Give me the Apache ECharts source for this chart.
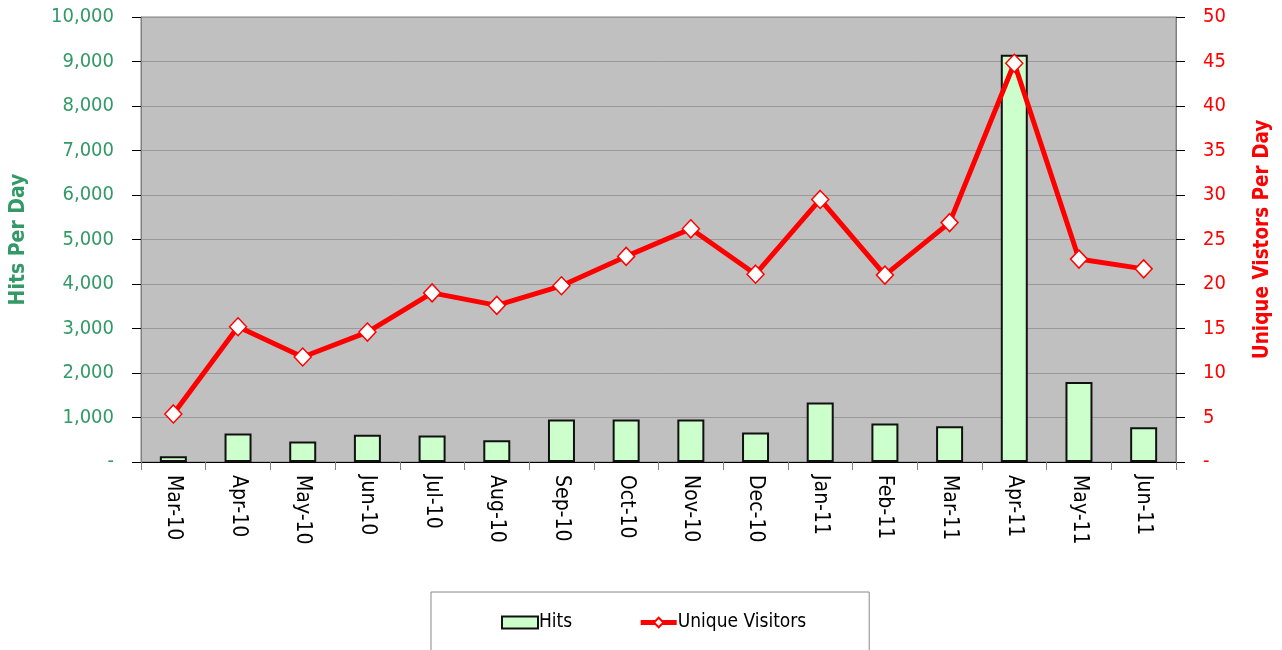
<!DOCTYPE html>
<html>
<head>
<meta charset="utf-8">
<script src="https://cdn.jsdelivr.net/npm/echarts@6/dist/echarts.min.js"></script>
<style>
html,body{margin:0;padding:0;background:#fff;}
#c{width:1282px;height:650px;}
</style>
</head>
<body>
<div id="c"></div>
<script>
const categories = ['Mar-10','Apr-10','May-10','Jun-10','Jul-10','Aug-10','Sep-10','Oct-10','Nov-10','Dec-10','Jan-11','Feb-11','Mar-11','Apr-11','May-11','Jun-11'];
const hits = [130, 640, 460, 615, 595, 490, 955, 955, 955, 665, 1335, 865, 805, 9150, 1795, 780];
const uniqueVisitors = [5.4, 15.2, 11.8, 14.6, 19.0, 17.6, 19.8, 23.1, 26.2, 21.1, 29.5, 21.0, 26.9, 44.8, 22.8, 21.7];
const leftTicks = {min: 0, max: 10000, interval: 1000};
const rightTicks = {min: 0, max: 50, interval: 5};

const FONT = "'DejaVu Sans Condensed', 'DejaVu Sans', sans-serif";
const GREEN = '#339966';
const RED = '#ff0000';

function fmtThousands(v){
  if (v === 0) return '-';
  return String(v).replace(/\B(?=(\d{3})+(?!\d))/g, ',');
}

const chart = echarts.init(document.getElementById('c'), null, {renderer: 'canvas'});
chart.setOption({
  animation: false,
  backgroundColor: '#ffffff',
  grid: {
    left: 140, right: 106, top: 17, bottom: 188,
    show: true, backgroundColor: '#c0c0c0', borderColor: '#808080', borderWidth: 1
  },
  legend: {
    left: 431, top: 592,
    padding: [21, 63, 40, 70],
    borderColor: '#888888', borderWidth: 1,
    backgroundColor: '#ffffff',
    itemGap: 66,
    itemWidth: 36, itemHeight: 12,
    textStyle: {fontFamily: FONT, fontSize: 19, color: '#000000', padding: [0,0,0,-4]},
    data: [
      {name: 'Hits', icon: 'rect', itemStyle: {borderWidth: 2, borderColor: '#111111'}},
      {name: 'Unique Visitors', lineStyle: {width: 5}}
    ]
  },
  xAxis: {
    type: 'category',
    data: categories,
    boundaryGap: true,
    axisLine: {lineStyle: {color: '#000000', width: 1}},
    axisTick: {show: true, length: 8, lineStyle: {color: '#808080'}},
    axisLabel: {rotate: -90, fontFamily: FONT, fontSize: 21, color: '#000000', margin: 13}
  },
  yAxis: [
    {
      type: 'value', position: 'left',
      min: leftTicks.min, max: leftTicks.max, interval: leftTicks.interval,
      name: 'Hits Per Day', nameLocation: 'middle', nameGap: 112, nameRotate: 90,
      nameTextStyle: {fontFamily: FONT, fontSize: 21, fontWeight: 'bold', color: GREEN},
      axisLine: {show: true, lineStyle: {color: '#808080', width: 1}},
      axisTick: {show: true, length: 9, lineStyle: {color: '#000000'}},
      axisLabel: {fontFamily: FONT, fontSize: 20, color: GREEN, margin: 27, formatter: fmtThousands},
      splitLine: {show: true, lineStyle: {color: '#999999', width: 1}}
    },
    {
      type: 'value', position: 'right',
      min: rightTicks.min, max: rightTicks.max, interval: rightTicks.interval,
      name: 'Unique Vistors Per Day', nameLocation: 'middle', nameGap: 76, nameRotate: 90,
      nameTextStyle: {fontFamily: FONT, fontSize: 20.5, fontWeight: 'bold', color: RED},
      axisLine: {show: true, lineStyle: {color: '#808080', width: 1}},
      axisTick: {show: true, length: 9, lineStyle: {color: '#000000'}},
      axisLabel: {fontFamily: FONT, fontSize: 20, color: RED, margin: 27,
        formatter: v => v === 0 ? '-' : String(v)},
      splitLine: {show: false}
    }
  ],
  series: [
    {
      name: 'Hits', type: 'bar', yAxisIndex: 0,
      data: hits,
      barWidth: 27,
      itemStyle: {color: '#ccffcc', borderColor: '#111111', borderWidth: 2}
    },
    {
      name: 'Unique Visitors', type: 'line', yAxisIndex: 1,
      data: uniqueVisitors,
      lineStyle: {color: RED, width: 5},
      symbol: 'diamond', symbolSize: [17, 18],
      itemStyle: {color: '#ffffff', borderColor: RED, borderWidth: 1.5},
      z: 3
    }
  ]
});
</script>
</body>
</html>
